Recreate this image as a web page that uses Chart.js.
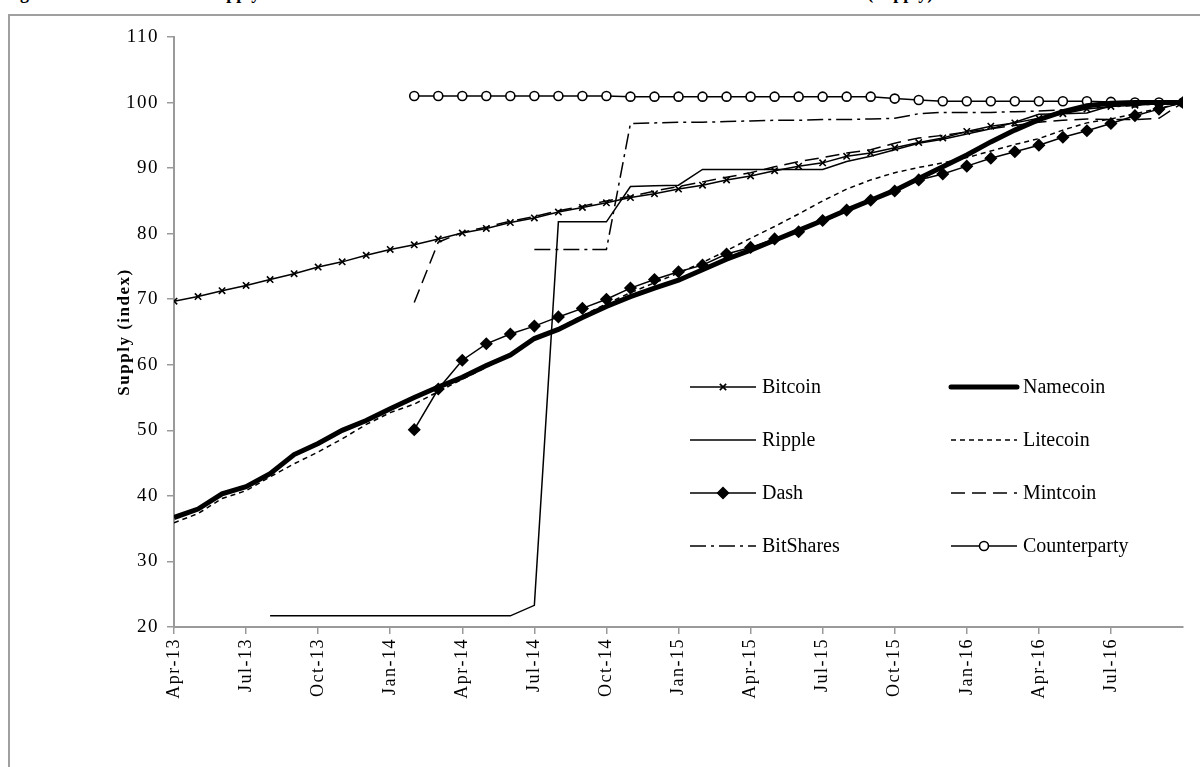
<!DOCTYPE html>
<html>
<head>
<meta charset="utf-8">
<script src="https://cdn.jsdelivr.net/npm/chart.js@4.4.1/dist/chart.umd.min.js"></script>
<style>
    body { margin: 0; background: #fff; }
    #wrap { position: relative; width: 1200px; height: 767px; overflow: hidden; }
    #frame { position: absolute; left: 8px; top: 14px; width: 1300px; height: 900px;
             border-top: 2px solid #a0a0a0; border-left: 2px solid #a0a0a0; }
    #cap { position: absolute; left: 4px; top: -17px; white-space: nowrap;
           font: bold 18px "Liberation Serif", serif; color: #000; }
    canvas { position: absolute; left: 0; top: 0; }
</style>
</head>
<body>
<div id="wrap">
    <div id="frame"></div>
    <div id="cap">Figure 4: Evolution of the Supply in Relation to the Total Amount of Coins at the End of the Observation Period (Supply)</div>
    <canvas id="supplyChart" width="1200" height="767"></canvas>
</div>
<script>
// monthly observations, Apr-13 .. Oct-16
const months = ['Apr-13', 'May-13', 'Jun-13', 'Jul-13', 'Aug-13', 'Sep-13', 'Oct-13', 'Nov-13', 'Dec-13',
    'Jan-14', 'Feb-14', 'Mar-14', 'Apr-14', 'May-14', 'Jun-14', 'Jul-14', 'Aug-14', 'Sep-14', 'Oct-14', 'Nov-14', 'Dec-14',
    'Jan-15', 'Feb-15', 'Mar-15', 'Apr-15', 'May-15', 'Jun-15', 'Jul-15', 'Aug-15', 'Sep-15', 'Oct-15', 'Nov-15', 'Dec-15',
    'Jan-16', 'Feb-16', 'Mar-16', 'Apr-16', 'May-16', 'Jun-16', 'Jul-16', 'Aug-16', 'Sep-16', 'Oct-16'];

const bitcoin = [69.7, 70.4, 71.3, 72.1, 73.0, 73.9, 74.9, 75.7, 76.7, 77.6, 78.3, 79.2, 80.1, 80.8, 81.7,
    82.4, 83.3, 84.0, 84.7, 85.5, 86.1, 86.8, 87.4, 88.2, 88.8, 89.6, 90.3, 90.8, 91.8, 92.3, 93.1,
    93.9, 94.6, 95.6, 96.4, 96.9, 97.6, 98.3, 99.0, 99.4, 99.6, 99.8, 100];
const namecoin = [36.7, 38.0, 40.3, 41.4, 43.4, 46.3, 48.0, 50.0, 51.5, 53.3, 55.0, 56.6, 58.1, 59.9, 61.5,
    64.0, 65.4, 67.2, 68.9, 70.4, 71.7, 72.9, 74.5, 76.1, 77.5, 79.0, 80.5, 82.0, 83.6, 85.1, 86.6,
    88.4, 90.2, 92.0, 94.0, 95.8, 97.4, 98.6, 99.5, 99.9, 100, 100, 100];
const ripple = [null, null, null, null, 21.7, 21.7, 21.7, 21.7, 21.7, 21.7, 21.7, 21.7, 21.7, 21.7, 21.7,
    23.3, 81.8, 81.8, 81.8, 87.2, 87.3, 87.4, 89.8, 89.8, 89.8, 89.8, 89.8, 89.8, 91.0, 91.8, 92.8,
    93.8, 94.4, 95.2, 96.0, 97.0, 98.2, 98.3, 98.4, 99.5, 99.8, 99.9, 100];
const litecoin = [35.9, 37.3, 39.6, 40.8, 42.9, 44.9, 46.7, 48.7, 50.9, 52.7, 54.0, 55.9, 57.8, 59.6, 61.6,
    63.8, 65.6, 67.5, 69.3, 71.0, 72.5, 74.0, 75.6, 77.4, 79.3, 81.1, 83.0, 85.0, 86.8, 88.2, 89.3,
    90.1, 90.8, 91.6, 92.6, 93.6, 94.5, 95.8, 96.9, 97.5, 98.3, 99.1, 100];
const dash = [null, null, null, null, null, null, null, null, null, null, 50.1, 56.3, 60.7, 63.2, 64.7,
    65.9, 67.3, 68.6, 70.0, 71.7, 73.0, 74.2, 75.2, 76.9, 77.9, 79.2, 80.3, 82.0, 83.6, 85.1, 86.5,
    88.2, 89.1, 90.3, 91.5, 92.5, 93.5, 94.7, 95.7, 96.8, 98.0, 99.0, 100];
const mintcoin = [null, null, null, null, null, null, null, null, null, null, 69.5, 78.7, 80.2, 81.0, 81.9,
    82.6, 83.5, 84.2, 85.0, 85.7, 86.5, 87.2, 87.9, 88.6, 89.3, 90.2, 91.0, 91.6, 92.3, 92.8, 93.8,
    94.6, 95.0, 95.5, 96.0, 96.5, 97.0, 97.3, 97.5, 97.4, 97.4, 97.6, 100];
const bitshares = [null, null, null, null, null, null, null, null, null, null, null, null, null, null, null,
    77.6, 77.6, 77.6, 77.6, 96.8, 96.9, 97.0, 97.0, 97.1, 97.2, 97.3, 97.3, 97.4, 97.4, 97.5, 97.6,
    98.3, 98.5, 98.5, 98.5, 98.6, 98.7, 98.9, 99.1, 99.3, 99.6, 99.8, 100];
const counterparty = [null, null, null, null, null, null, null, null, null, null, 101.0, 101.0, 101.0, 101.0, 101.0,
    101.0, 101.0, 101.0, 101.0, 100.9, 100.9, 100.9, 100.9, 100.9, 100.9, 100.9, 100.9, 100.9, 100.9, 100.9, 100.6,
    100.4, 100.2, 100.2, 100.2, 100.2, 100.2, 100.2, 100.2, 100.1, 100.0, 100.0, 100.0];

const toPoints = arr => arr.map((v, i) => ({ x: i, y: v }));

const base = { borderColor: '#000', backgroundColor: '#000', borderWidth: 1.5, tension: 0, pointRadius: 0 };

const datasets = [
    { ...base, label: 'Bitcoin', data: toPoints(bitcoin), pointStyle: 'crossRot', pointRadius: 4.5, pointBorderWidth: 1.6 },
    { ...base, label: 'Namecoin', data: toPoints(namecoin), borderWidth: 5 },
    { ...base, label: 'Ripple', data: toPoints(ripple) },
    { ...base, label: 'Litecoin', data: toPoints(litecoin), borderDash: [5, 4] },
    { ...base, label: 'Dash', data: toPoints(dash), pointStyle: 'rectRot', pointRadius: 5.5 },
    { ...base, label: 'Mintcoin', data: toPoints(mintcoin), borderDash: [14, 7] },
    { ...base, label: 'BitShares', data: toPoints(bitshares), borderDash: [16, 5, 3, 5] },
    { ...base, label: 'Counterparty', data: toPoints(counterparty), pointStyle: 'circle', pointRadius: 4.5,
      pointBackgroundColor: '#fff', pointBorderWidth: 1.6 }
];

// Excel-like spaced tick text on the axes only
const spacedTicks = {
    id: 'spacedTicks',
    beforeDraw(chart) { chart.ctx.letterSpacing = '1.5px'; },
    beforeDatasetsDraw(chart) { chart.ctx.letterSpacing = '0px'; }
};

// legend drawn inside the plot, two columns
const insideLegend = {
    id: 'insideLegend',
    afterDraw(chart) {
        const ctx = chart.ctx;
        const colX = [690, 951];
        const rowY = [387, 440, 493, 546];
        chart.data.datasets.forEach((ds, i) => {
            const x = colX[i % 2];
            const y = rowY[Math.floor(i / 2)];
            ctx.save();
            ctx.letterSpacing = '0px';
            ctx.strokeStyle = '#000';
            ctx.lineWidth = ds.borderWidth;
            ctx.lineCap = ds.borderWidth > 3 ? 'round' : 'butt';
            ctx.setLineDash(ds.borderDash || []);
            ctx.beginPath();
            ctx.moveTo(x, y);
            ctx.lineTo(x + 66, y);
            ctx.stroke();
            ctx.setLineDash([]);
            if (ds.pointRadius) {
                ctx.fillStyle = ds.pointBackgroundColor || '#000';
                ctx.lineWidth = ds.pointBorderWidth || 1.5;
                Chart.helpers.drawPoint(ctx, { pointStyle: ds.pointStyle, radius: ds.pointRadius, rotation: 0,
                    borderWidth: ds.pointBorderWidth || 1.5 }, x + 33, y);
            }
            ctx.fillStyle = '#000';
            ctx.font = '20px "Liberation Serif"';
            ctx.textBaseline = 'middle';
            ctx.fillText(ds.label, x + 72, y + 1);
            ctx.restore();
        });
    }
};

const axisGray = '#9a9a9a';

new Chart(document.getElementById('supplyChart'), {
    type: 'line',
    data: { datasets },
    plugins: [spacedTicks, insideLegend],
    options: {
        responsive: false,
        animation: false,
        layout: { padding: { left: 110, right: 17, top: 37, bottom: 0 } },
        plugins: { legend: { display: false }, tooltip: { enabled: false } },
        scales: {
            x: {
                type: 'linear',
                min: 0,
                max: 42,
                afterBuildTicks: s => { s.ticks = s.ticks.filter(t => t.value <= 39); },
                afterFit: s => { s.height = 140; },
                ticks: {
                    stepSize: 3,
                    autoSkip: false,
                    maxRotation: 90,
                    minRotation: 90,
                    color: '#000',
                    padding: 4,
                    font: { family: 'Liberation Serif', size: 18 },
                    callback: v => months[v]
                },
                grid: { drawOnChartArea: false, tickLength: 7, color: axisGray, lineWidth: 1.5 },
                border: { color: axisGray, width: 2 }
            },
            y: {
                min: 20,
                max: 110,
                afterFit: s => { s.width = 64; },
                ticks: { stepSize: 10, color: '#000', padding: 8, font: { family: 'Liberation Serif', size: 19 } },
                grid: { drawOnChartArea: false, tickLength: 7, color: axisGray, lineWidth: 1.5 },
                border: { color: axisGray, width: 2 },
                title: {
                    display: true,
                    text: 'Supply (index)',
                    color: '#000',
                    padding: { top: 4, bottom: 0 },
                    font: { family: 'Liberation Serif', size: 17, weight: 'bold' }
                }
            }
        }
    }
});
</script>
</body>
</html>
